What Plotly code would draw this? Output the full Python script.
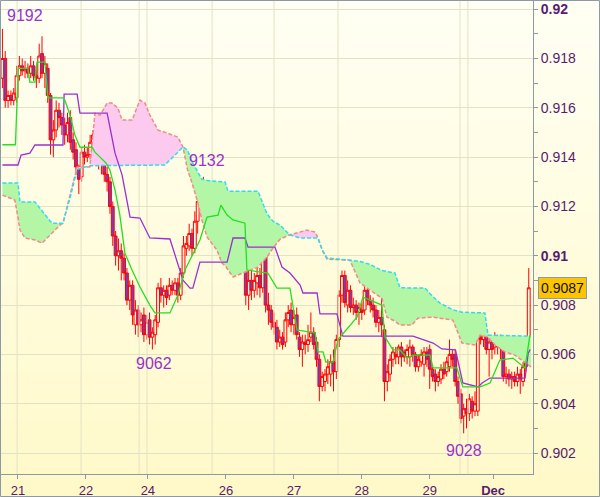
import plotly.graph_objects as go

# ---------------- data (prices as 0.9 + v/10000) ----------------
BASE = 0.9
UNIT = 1e-4

opens = [172,180,163,165,163,164,173,177,175,176,174,177,173,172,182,174,176,165,147,151,
         159,156,153,149,156,147,143,136,132,142,140,141,146,149,146,138,140,133,130,120,
         108,100,102,99,93,82,88,72,78,72,76,68,74,67,68,73,87,84,86,84,
         88,86,89,84,93,103,104,109,103,114,120,126,125,119,121,120,118,115,117,111,
         105,107,112,110,113,110,104,84,90,86,89,92,87,108,80,78,73,71,65,67,
         65,74,78,72,76,67,62,65,64,67,69,65,58,47,49,52,52,57,53,66,
         84,92,80,86,79,80,77,78,78,86,82,80,78,73,75,70,49,52,58,60,
         59,63,61,59,59,63,60,55,57,56,61,62,54,52,49,50,54,53,55,60,
         60,49,44,35,38,36,41,37,37,67,66,67,62,65,63,66,63,63,51,52,
         50,51,49,52,49,55,62]
highs = [192,183,167,167,168,177,181,180,179,178,181,179,176,186,189,181,178,166,155,163,
         162,158,156,158,159,150,146,137,144,145,144,149,151,151,152,143,142,136,132,122,
         110,107,105,101,95,90,90,82,80,77,79,76,77,71,76,89,91,88,88,91,
         90,91,91,95,108,108,113,111,118,124,129,132,128,124,123,122,120,119,119,113,
         110,115,115,116,115,114,106,95,97,93,96,95,110,109,85,80,77,74,70,69,
         77,80,81,78,79,69,68,68,72,77,71,67,60,53,54,58,60,62,68,86,
         94,94,90,88,83,82,81,81,88,89,84,83,80,78,83,72,56,60,63,63,
         64,65,62,64,66,64,61,60,62,63,63,64,55,54,53,56,57,59,66,62,
         62,51,46,40,42,44,43,45,69,71,70,69,67,67,69,68,68,64,55,54,
         53,53,55,54,57,66,95]
lows = [168,160,160,161,161,162,171,173,172,172,172,171,168,170,172,168,162,141,140,148,
        152,149,145,146,143,139,133,125,130,137,138,139,144,142,135,133,130,126,117,104,
        96,94,90,90,80,78,72,68,67,69,65,66,64,62,64,71,81,79,80,82,
        84,84,81,82,91,100,102,100,101,109,117,121,116,115,117,114,112,113,108,103,
        102,105,107,106,104,102,80,78,82,83,84,83,85,77,72,70,68,62,63,62,
        63,71,69,68,66,59,55,60,61,65,62,55,41,45,45,48,47,45,50,63,
        81,79,77,77,76,74,72,74,76,80,77,75,71,69,67,41,45,49,55,56,
        56,55,57,56,55,57,53,53,55,51,55,46,49,45,47,48,50,51,53,55,
        47,40,32,28,30,33,34,35,35,64,63,60,51,58,60,60,58,49,48,47,
        46,47,47,44,47,53,60]
closes = [180,163,165,163,166,173,177,175,176,174,177,173,172,181,174,178,165,147,151,159,
          156,153,149,154,146,142,136,131,142,140,141,146,149,145,138,141,133,130,120,108,
          100,102,99,93,82,88,76,78,72,74,68,73,67,69,74,87,84,86,83,88,
          86,89,84,93,104,105,109,103,114,122,126,124,119,121,120,118,115,117,111,105,
          108,113,110,113,109,105,84,90,86,90,92,87,108,80,78,73,71,65,67,64,
          74,77,72,75,68,62,65,64,66,69,64,58,47,51,52,55,57,53,66,84,
          92,81,86,79,80,77,79,77,86,82,80,78,73,75,72,49,53,58,61,59,
          63,59,59,62,63,60,55,58,60,61,58,54,51,49,51,54,52,57,60,58,
          49,43,34,38,36,42,37,40,67,66,68,62,65,62,67,63,66,51,52,50,
          51,49,52,50,55,62,87]

# Tenkan-sen (green) and Kijun-sen (purple): candle index / value
tenkan_idx = [0,4.6,5.6,9.0,9.7,11.5,12.2,15.0,16.1,21.4,22.1,23.9,25.6,27.4,31.7,32.7,34.5,36.6,
              38.0,39.8,41.5,43.3,45.8,48.6,52.1,53.9,59.2,62.0,64.5,68.8,69.8,72.3,76.2,77.2,
              79.4,81.5,85.7,86.4,93.8,97.0,101.6,104.1,110.5,111.5,113.3,114.3,116.8,118.6,
              125.3,127.4,134.1,135.2,138.0,140.5,143.0,145.1,151.1,152.2,160.6,162.7,168.8,
              172.3,175.8,180.4,184.7,186.4]
tenkan_val = [145,145,176,176,170.4,170.4,178.5,178.5,164,164,163,157,149,144,144,142,140,137.6,
              134.7,126.6,116.5,101,94.2,87.3,80,76.8,76.8,84,94.2,104.3,106.4,115.7,116.5,120.5,
              116.5,114.5,113.2,94.2,93,86.9,86.9,69.9,68.7,61,61,56.9,56.9,66,
              75.1,83.2,80,67,61.8,61.8,58.5,59.7,59.7,54.5,54.5,46.8,46.8,
              48.4,57.7,58.5,54.5,67.8]
kijun_idx = [0,5.5,6.6,9.7,11.5,21.4,21.8,26.4,27.4,37.0,39.8,42.3,45.1,48.6,52.1,59.2,63.8,66.3,
             67.3,69.8,79.4,81.5,85.7,86.8,96.3,98.8,101.6,105.2,106.2,111.2,112.2,118.2,120.3,
             145.1,152.2,155.3,160.1,162.7,168.1,169.5,172.3,184.7,185.8,186.5]
kijun_val = [136.8,136.8,140.8,141.6,144.9,144.9,165.5,165.5,157.8,157.8,141.6,132.7,115.7,115.3,
             107.2,106.8,90.1,86.9,86.9,97.4,97.4,107.2,107.2,103.5,103.5,95.4,93,88.1,84.9,84.9,
             76.4,76.4,67.4,67.4,64.6,62.2,61.8,48.4,46.8,48.4,50.4,50.4,60.5,62]

# Senkou span A (cyan) / B (salmon) on a shared index grid
cloud_idx = [0,4.4,5.5,6.2,8.0,11.5,14.0,17.5,20.3,21.4,24.0,26.4,30.9,32.7,34.5,37.0,38.7,40.8,
             42.3,45.8,48.6,50.4,52.1,55.0,57.4,62.0,63.8,65.4,67.0,68.8,70.5,72.3,75.8,77.6,
             78.7,79.7,81.5,85.0,90.3,93.5,95.6,98.1,101.5,105.2,107.6,110.5,111.5,113.0,114.7,
             122.8,126.4,129.9,133.4,134.1,135.9,138.7,140.5,144.7,146.8,149.3,151.8,154.6,
             159.2,162.4,167.0,168.8,170.5,171.6,174.1,177.6,181.1,184.7,186.8]
span_a = [129.5,129.5,129.5,121.8,121.8,121.8,118.2,113.2,113.2,113.2,124.0,135.0,136.5,136.6,136.6,
          136.6,136.6,136.6,136.6,136.6,136.7,136.7,136.7,136.8,136.8,142.0,144.1,142.9,138.0,
          134.5,131.0,130.5,130.2,130.0,129.9,126.2,126.2,126.2,126.2,117.0,114.0,112.4,108.5,
          107.2,107.2,107.2,107.2,102.5,99.1,98.2,97.7,96.5,94.2,94.0,93.6,93.0,87.0,86.9,
          86.9,86.9,83.8,80.8,78.1,77.1,76.9,76.8,76.8,67.8,67.7,67.6,67.5,67.4,67.4]
span_b = [124.6,122.6,115.5,110.4,107.2,106.4,105.1,109.2,112.4,113.2,125.5,136.0,136.0,157.8,157.0,
          161.9,161.9,159.9,155.0,155.0,163.1,161.9,157.0,150.9,150.1,148.1,144.1,135.0,129.5,
          122.6,114.5,107.6,102.3,97.0,96.0,94.5,91.4,93.0,95.4,99.5,103.1,106.7,108.5,
          109.6,110.4,109.6,107.2,102.3,98.6,98.2,88.9,86.1,83.3,82.8,75.1,73.5,71.9,71.9,
          74.7,75.0,75.1,74.7,73.9,64.6,63.8,67.8,67.4,67.0,63.8,61.0,59.7,56.9,54.9]

x_tick_idx = [5.5, 29.5, 51.4, 79, 103, 127, 151, 173.4]
x_tick_text = ["21", "22", "24", "26", "27", "28", "29", "<b>Dec</b>"]
vgrid_idx = [5.2, 27.8, 48.3, 51.1, 74.1, 96.0, 118.6, 161.7, 164.5]
y_tick_vals = [0.902, 0.904, 0.906, 0.908, 0.910, 0.912, 0.914, 0.916, 0.918, 0.920]
y_tick_text = ["0.902", "0.904", "0.906", "0.908", "<b>0.91</b>", "0.912", "0.914", "0.916",
               "0.918", "<b>0.92</b>"]
extreme_text = ["9192", "9132", "9062", "9028"]
extreme_idx = [0.9, 72.3, 53.7, 163.1]
extreme_pos = [0.91976, 0.91388, 0.90565, 0.90212]
extreme_anchor = ["left", "center", "center", "center"]
last_price = 0.9087

Y_RANGE = [0.90115, 0.92033]


def px(vals):
    return [BASE + v * UNIT for v in vals]


n = len(closes)
xs = list(range(n))

fig = go.Figure()

# ---- vertical grid lines (drawn as a trace, under everything else) ----
gx, gy = [], []
for g in vgrid_idx:
    gx += [g, g, None]
    gy += [Y_RANGE[0], Y_RANGE[1], None]
fig.add_trace(go.Scatter(x=gx, y=gy, mode="lines", line=dict(color="#e2e2c6", width=1),
                         hoverinfo="skip", showlegend=False))

# ---- cloud fills (split where span A and span B cross) ----
runs = []
cur = [(cloud_idx[0], span_a[0], span_b[0])]
for k in range(1, len(cloud_idx)):
    xp, ap, bp = cur[-1]
    x1, a1, b1 = cloud_idx[k], span_a[k], span_b[k]
    d0, d1 = ap - bp, a1 - b1
    if d0 * d1 < 0:
        t = d0 / (d0 - d1)
        xc = xp + t * (x1 - xp)
        yc = ap + t * (a1 - ap)
        cur.append((xc, yc, yc))
        runs.append(cur)
        cur = [(xc, yc, yc)]
    cur.append((x1, a1, b1))
    if d1 == 0 and len(cur) > 1:
        runs.append(cur)
        cur = [(x1, a1, b1)]
if len(cur) > 1:
    runs.append(cur)

for r in runs:
    s = sum(a - b for _, a, b in r)
    color = "#b3f7a6" if s >= 0 else "#fcc9ef"
    rx = [p[0] for p in r]
    ra = [p[1] for p in r]
    rb = [p[2] for p in r]
    fig.add_trace(go.Scatter(x=rx + rx[::-1], y=px(ra + rb[::-1]), fill="toself",
                             fillcolor=color, mode="lines", line=dict(width=0),
                             hoverinfo="skip", showlegend=False))

fig.add_trace(go.Scatter(x=cloud_idx, y=px(span_b), mode="lines",
                         line=dict(color="#f28a8a", width=1.5, dash="4px,2px"),
                         hoverinfo="skip", showlegend=False))
fig.add_trace(go.Scatter(x=cloud_idx, y=px(span_a), mode="lines",
                         line=dict(color="#2fdcef", width=1.5, dash="4px,2px"),
                         hoverinfo="skip", showlegend=False))

# ---- candles ----
fig.add_trace(go.Candlestick(
    x=xs, open=px(opens), high=px(highs), low=px(lows), close=px(closes),
    increasing=dict(line=dict(color="#ff0000", width=1), fillcolor="rgba(255,255,230,0)"),
    decreasing=dict(line=dict(color="#ff0000", width=1), fillcolor="#7a3db8"),
    whiskerwidth=0, hoverinfo="skip", showlegend=False))

# ---- Ichimoku lines ----
fig.add_trace(go.Scatter(x=kijun_idx, y=px(kijun_val), mode="lines",
                         line=dict(color="#9b30d0", width=1.3), hoverinfo="skip",
                         showlegend=False))
fig.add_trace(go.Scatter(x=tenkan_idx, y=px(tenkan_val), mode="lines",
                         line=dict(color="#22e022", width=1.3), hoverinfo="skip",
                         showlegend=False))

# ---- background gradient (whole image) ----
shapes = []
NB = 40
top = (255, 255, 244)
bot = (255, 249, 200)
y_top_paper = (474 - 0) / 473.0
y_bot_paper = (474 - 497) / 473.0
for k in range(NB):
    f = (k + 0.5) / NB
    c = tuple(int(round(top[j] + (bot[j] - top[j]) * f)) for j in range(3))
    y1 = y_top_paper + (y_bot_paper - y_top_paper) * k / NB
    y0 = y_top_paper + (y_bot_paper - y_top_paper) * (k + 1) / NB
    shapes.append(dict(type="rect", xref="paper", yref="paper", x0=-2 / 532, x1=600 / 532,
                       y0=y0, y1=y1 + 0.002, fillcolor="rgb(%d,%d,%d)" % c,
                       line=dict(width=0), layer="below"))

# outer frame
shapes.append(dict(type="rect", xref="paper", yref="paper",
                   x0=-0.5 / 532, x1=598.5 / 532, y0=(474 - 496.5) / 473, y1=(474 - 0.5) / 473,
                   line=dict(color="#8c9aa8", width=1), fillcolor="rgba(0,0,0,0)", layer="above"))

annotations = []
for t, xi, yp, an in zip(extreme_text, extreme_idx, extreme_pos, extreme_anchor):
    annotations.append(dict(x=xi, y=yp, xref="x", yref="y", text=t, showarrow=False,
                            xanchor=an, yanchor="middle",
                            font=dict(family="Liberation Sans, Arial", size=16, color="#9932cc")))
annotations.append(dict(x=(538 - 1) / 532, y=last_price, xref="paper", yref="y",
                        text="%.4f" % last_price, showarrow=False, xanchor="left",
                        yanchor="middle", bgcolor="#fcc500", bordercolor="#8c9aa8",
                        borderwidth=1, borderpad=2,
                        font=dict(family="Liberation Sans, Arial", size=14, color="#111111")))

fig.update_layout(
    width=600, height=497,
    margin=dict(l=1, r=67, t=1, b=23),
    paper_bgcolor="rgba(0,0,0,0)", plot_bgcolor="rgba(0,0,0,0)",
    showlegend=False, boxgap=0, boxgroupgap=0,
    shapes=shapes, annotations=annotations,
    xaxis=dict(range=[-0.5, 187.5], tickmode="array", tickvals=x_tick_idx, ticktext=x_tick_text,
               ticks="outside", ticklen=4, tickcolor="#8c9aa8", showgrid=False, zeroline=False,
               showline=True, linecolor="#8c9aa8", linewidth=1, automargin=False,
               rangeslider=dict(visible=False),
               tickfont=dict(family="Liberation Sans, Arial", size=13, color="#5a1a70")),
    yaxis=dict(range=Y_RANGE, side="right", tickmode="array", tickvals=y_tick_vals,
               ticktext=y_tick_text, showgrid=True, gridcolor="#e2e2c6", gridwidth=1,
               ticks="outside", ticklen=4, tickcolor="#8c9aa8", zeroline=False,
               showline=True, linecolor="#8c9aa8", linewidth=1, automargin=False,
               minor=dict(tickmode="linear", tick0=0.901, dtick=0.001, ticks="outside",
                          ticklen=4, tickcolor="#8c9aa8", showgrid=False),
               tickfont=dict(family="Liberation Sans, Arial", size=14, color="#5a1a70")),
)

fig.write_html("out.html", config={"displayModeBar": False},
               post_script="document.body.style.margin='0';document.body.style.overflow='hidden';")
